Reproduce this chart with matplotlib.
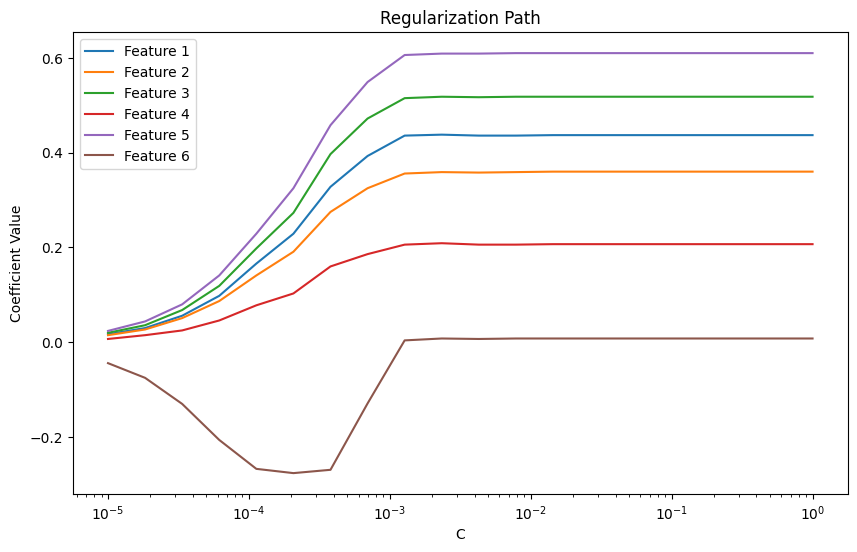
import numpy as np
import matplotlib
matplotlib.use("Agg")
import matplotlib.pyplot as plt

# valores de C (20 puntos en escala log)
C = np.logspace(-5, 0, 20)

feature_1 = [0.017, 0.030, 0.056, 0.098, 0.166, 0.229, 0.328, 0.393, 0.436, 0.438,
             0.436, 0.436, 0.437, 0.437, 0.437, 0.437, 0.437, 0.437, 0.437, 0.437]
feature_2 = [0.015, 0.027, 0.051, 0.087, 0.141, 0.191, 0.275, 0.325, 0.356, 0.359,
             0.358, 0.359, 0.360, 0.360, 0.360, 0.360, 0.360, 0.360, 0.360, 0.360]
feature_3 = [0.020, 0.036, 0.068, 0.119, 0.198, 0.273, 0.397, 0.472, 0.515, 0.518,
             0.517, 0.518, 0.518, 0.518, 0.518, 0.518, 0.518, 0.518, 0.518, 0.518]
feature_4 = [0.007, 0.015, 0.025, 0.046, 0.078, 0.103, 0.160, 0.186, 0.206, 0.209,
             0.206, 0.206, 0.207, 0.207, 0.207, 0.207, 0.207, 0.207, 0.207, 0.207]
feature_5 = [0.024, 0.044, 0.080, 0.141, 0.229, 0.325, 0.458, 0.549, 0.606, 0.609,
             0.609, 0.610, 0.610, 0.610, 0.610, 0.610, 0.610, 0.610, 0.610, 0.610]
feature_6 = [-0.044, -0.075, -0.130, -0.206, -0.267, -0.276, -0.269, -0.129, 0.004, 0.008,
             0.007, 0.008, 0.008, 0.008, 0.008, 0.008, 0.008, 0.008, 0.008, 0.008]

coefs = [feature_1, feature_2, feature_3, feature_4, feature_5, feature_6]
nombres = ["Feature 1", "Feature 2", "Feature 3", "Feature 4", "Feature 5", "Feature 6"]

plt.figure(figsize=(10, 6))
for valores, nombre in zip(coefs, nombres):
    plt.plot(C, valores, label=nombre)

plt.xscale("log")
plt.xlabel("C")
plt.ylabel("Coefficient Value")
plt.title("Regularization Path")
plt.legend()
plt.savefig("out.png", dpi=100, bbox_inches="tight")
